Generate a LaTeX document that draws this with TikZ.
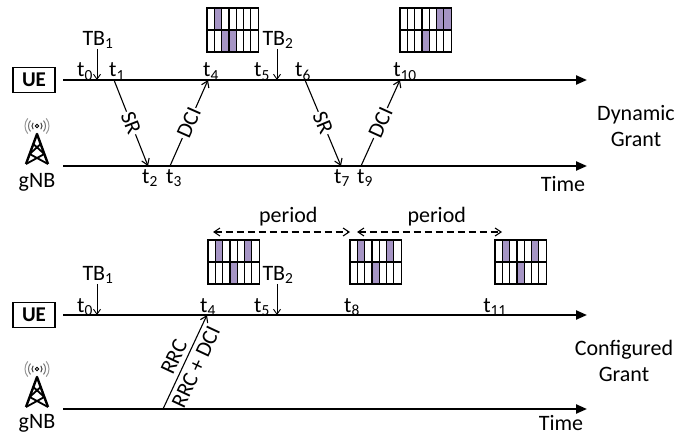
\documentclass[tikz,border=0pt]{standalone}
\usepackage{fontspec}
\setmainfont{Carlito}
\usetikzlibrary{arrows.meta}
\definecolor{rbfill}{RGB}{165,148,196}

% resource grid: x, y (top left), shaded top slots, shaded bottom slots
\newcommand{\rbgrid}[4]{%
  \foreach \c in {#3} \fill[rbfill] ({#1+(\c-1)*7.3},#2) rectangle ++(7.3,22);
  \foreach \c in {#4} \fill[rbfill] ({#1+(\c-1)*7.3},{#2+22}) rectangle ++(7.3,22);
  \foreach \r in {0,1} \foreach \c in {0,...,6}
    \draw[line width=1.2pt] ({#1+\c*7.3},{#2+\r*22}) rectangle ++(7.3,22);
}

\tikzset{gnbtower/.pic={
  \draw[line width=2.4pt, line join=round] (-11,30) -- (0,0) -- (11,30);
  \draw[line width=1.8pt] (-3.67,10) -- (7.33,20) (3.67,10) -- (-7.33,20)
     (-7.33,20) -- (11,30) (7.33,20) -- (-11,30);
  \draw[line width=0.8pt] (0,-8) circle (1.8);
  \foreach \r/\c in {5/black!75, 8.5/black!55, 12/black!40}{
    \draw[\c, line width=1pt] ([shift={(140:\r)}]0,-8) arc (140:220:\r);
    \draw[\c, line width=1pt] ([shift={(-40:\r)}]0,-8) arc (-40:40:\r);
  }
}}

\begin{document}
\begin{tikzpicture}[x=1pt,y=-1pt,
    font=\fontsize{22}{26}\selectfont,
    timeline/.style={line width=2.2pt, -{Triangle[length=11pt,width=9pt]}},
    msg/.style={line width=1.1pt, -{Straight Barb[length=6pt,width=8pt]}},
    tbarrow/.style={line width=0.9pt, -{Straight Barb[length=5pt,width=7pt]}},
    periodarrow/.style={line width=1.1pt, dash pattern=on 7pt off 4pt,
      {Straight Barb[length=6pt,width=8pt]}-{Straight Barb[length=6pt,width=8pt]}},
    uebox/.style={draw, line width=1.2pt, minimum width=42pt, minimum height=25pt,
      inner sep=0pt, font=\fontsize{21}{26}\selectfont\bfseries},
    tlabel/.style={anchor=base, inner sep=0pt},
    msglabel/.style={midway, sloped, fill=white, inner sep=1pt}]
  \useasboundingbox (0,0) rectangle (699,436);

  % ---- dynamic grant ----
  \node[uebox] (ue1) at (34,80) {UE};
  \pic at (37,134) {gnbtower};
  \node[anchor=base] (gnb1) at (37,187) {gNB};
  \coordinate (ue1s) at (63,80);   \coordinate (ue1e) at (587,80);
  \coordinate (gnb1s) at (63,166); \coordinate (gnb1e) at (587,166);
  \draw[timeline] (ue1s) -- (ue1e);
  \draw[timeline] (gnb1s) -- (gnb1e);
  \node[anchor=base] (time1) at (563,191) {Time};
  \node[align=center] (dyn) at (636,126) {Dynamic\\Grant};

  \foreach \n/\x in {0/85,1/117,4/211,5/262,6/303,10/405}
    \node[tlabel] (tu\n) at (\x,77) {t\textsubscript{\n}};
  \foreach \n/\x in {2/150,3/174,7/342,9/365}
    \node[tlabel] (tg\n) at (\x,183) {t\textsubscript{\n}};

  \node[inner sep=0pt] (tb1) at (98,40) {TB\textsubscript{1}};
  \node[inner sep=0pt] (tb2) at (278,40) {TB\textsubscript{2}};
  \draw[tbarrow] (tb1.south -| 97,0) -- (97,80);
  \draw[tbarrow] (tb2.south -| 277,0) -- (277,80);

  \coordinate (sr1a) at (114,80);  \coordinate (sr1b) at (148,166);
  \coordinate (dci1a) at (170,166); \coordinate (dci1b) at (208,80);
  \coordinate (sr2a) at (305,80);  \coordinate (sr2b) at (341,166);
  \coordinate (dci2a) at (361,166); \coordinate (dci2b) at (400,80);
  \draw[msg] (sr1a) -- node[msglabel] (sr1) {SR} (sr1b);
  \draw[msg] (dci1a) -- node[msglabel] (dci1) {DCI} (dci1b);
  \draw[msg] (sr2a) -- node[msglabel] (sr2) {SR} (sr2b);
  \draw[msg] (dci2a) -- node[msglabel] (dci2) {DCI} (dci2b);

  \rbgrid{207}{8}{2}{3,4}
  \rbgrid{400}{8}{6,7}{4}

  % ---- configured grant ----
  \node[uebox] (ue2) at (34,315) {UE};
  \pic at (37,377) {gnbtower};
  \node[anchor=base] (gnb2) at (37,428) {gNB};
  \coordinate (ue2s) at (63,315);  \coordinate (ue2e) at (587,315);
  \coordinate (gnb2s) at (63,409); \coordinate (gnb2e) at (587,409);
  \draw[timeline] (ue2s) -- (ue2e);
  \draw[timeline] (gnb2s) -- (gnb2e);
  \node[anchor=base] (time2) at (561,430) {Time};
  \node[align=center] (cfg) at (624,361) {Configured\\Grant};

  \foreach \n/\x in {0/85,4/208,5/262,8/352,11/495}
    \node[tlabel] (tl\n) at (\x,312) {t\textsubscript{\n}};

  \node[inner sep=0pt] (tb3) at (98,275) {TB\textsubscript{1}};
  \node[inner sep=0pt] (tb4) at (278,275) {TB\textsubscript{2}};
  \draw[tbarrow] (tb3.south -| 97,0) -- (97,315);
  \draw[tbarrow] (tb4.south -| 277,0) -- (277,315);

  \coordinate (rrca) at (163,409); \coordinate (rrcb) at (207,315);
  \draw[msg] (rrca) -- node[midway, sloped, above=1pt] (rrc) {RRC}
    node[midway, sloped, below=1pt] (rrcdci) {RRC + DCI} (rrcb);

  \coordinate (p1) at (213,232); \coordinate (p2) at (350,232);
  \coordinate (p3) at (357,232); \coordinate (p4) at (502,232);
  \draw[periodarrow] (p1) -- node[pos=0.55, above=2pt] (per1) {period} (p2);
  \draw[periodarrow] (p3) -- node[pos=0.55, above=2pt] (per2) {period} (p4);

  \rbgrid{208}{240}{2,6}{4}
  \rbgrid{350}{240}{2,6}{4}
  \rbgrid{495}{240}{2,6}{4}
\end{tikzpicture}
\end{document}
